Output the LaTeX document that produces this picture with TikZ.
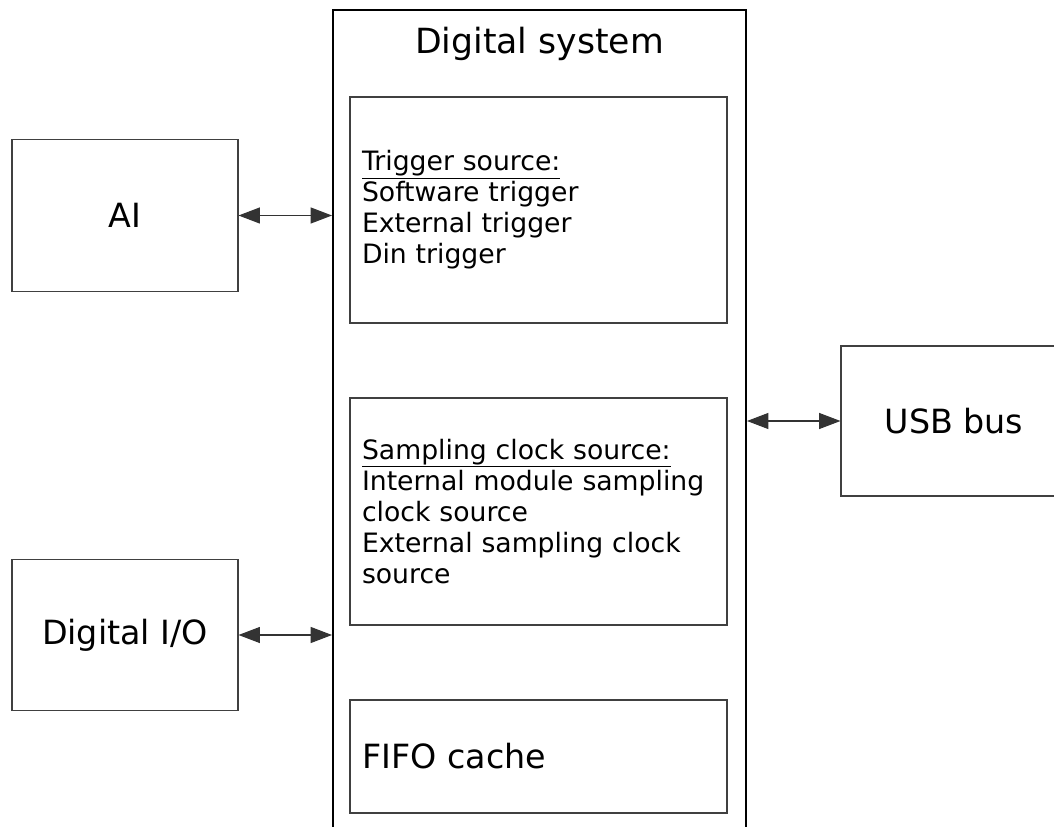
\documentclass[tikz,border=0pt]{standalone}
\usepackage{fontspec}
\setmainfont{DejaVu Sans}
\usetikzlibrary{positioning}
\usetikzlibrary{arrows.meta}
\tikzset{
    sysbox/.style = {rectangle, draw=black, line width=1.5pt, minimum width=309.75pt, minimum height=630pt, inner sep=0pt},
    block/.style = {rectangle, draw=black!75, line width=0.8pt, minimum width=169.5pt, minimum height=113.5pt, align=center, font=\fontsize{25}{30}\selectfont},
    inbox/.style = {rectangle, draw=black!75, line width=0.8pt, minimum width=282.75pt, inner xsep=9pt, text width=264.75pt, align=left, font=\fontsize{20}{23.3}\selectfont},
    title/.style = {anchor=base, font=\fontsize{26}{30}\selectfont},
    biarrow/.style = {{Triangle[length=16pt,width=12pt]}-{Triangle[length=16pt,width=12pt]}, line width=0.8pt, black!80}
}
\begin{document}
\begin{tikzpicture}[x=0.75pt,y=-0.75pt]
\useasboundingbox (0,0) rectangle (1054,827);
\clip (0,0) rectangle (1054,827);
%
\node[sysbox] at (539.5,430) (sys) {};
\node[title] at (539.5,54) (systitle) {Digital system};
\node[inbox, minimum height=169.5pt] at (538.5,210) (trig) {\underline{Trigger source:}\\Software trigger\\External trigger\\Din trigger};
\node[inbox, minimum height=170.25pt] at (538.5,511.5) (samp) {\underline{Sampling clock source:}\\Internal module sampling\\clock source\\External sampling clock\\source};
\node[inbox, minimum height=84.75pt, font=\fontsize{25}{30}\selectfont] at (538.5,756.5) (fifo) {FIFO cache};
%
\node[block] at (125,215.5) (ai) {AI};
\node[block] at (125,635) (dio) {Digital I/O};
\node[block, minimum height=112.5pt] at (954,421) (usb) {USB bus};
%
\draw[biarrow] (ai) -- (ai -| sys.west);
\draw[biarrow] (dio) -- (dio -| sys.west);
\draw[biarrow] (usb -| sys.east) -- (usb);
\end{tikzpicture}
\end{document}
